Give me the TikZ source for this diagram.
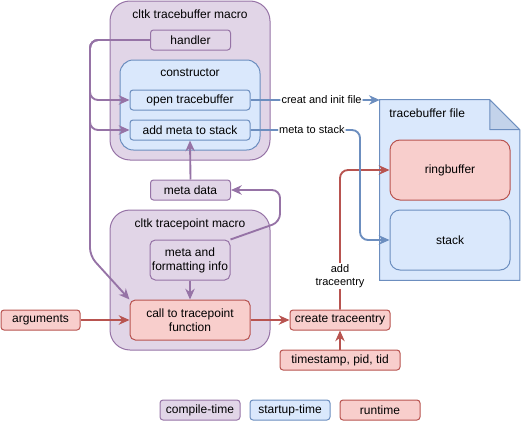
\documentclass[tikz,border=0pt]{standalone}
\usepackage{fontspec}
\setmainfont{Liberation Sans}
\usetikzlibrary{arrows.meta,calc}
\definecolor{pfill}{HTML}{E1D5E7}
\definecolor{pdraw}{HTML}{9673A6}
\definecolor{bfill}{HTML}{DAE8FC}
\definecolor{bdraw}{HTML}{6C8EBF}
\definecolor{rfill}{HTML}{F8CECC}
\definecolor{rdraw}{HTML}{B85450}
\definecolor{foldc}{HTML}{C3D3EA}
\begin{document}
\begin{tikzpicture}[x=0.75pt,y=-0.75pt,
  font=\fontsize{9}{10.5}\selectfont,
  box/.style={draw, line width=0.75pt, rounded corners=2.25pt, inner sep=0pt, align=center, text=black},
  pbox/.style={box, fill=pfill, draw=pdraw},
  bbox/.style={box, fill=bfill, draw=bdraw},
  rbox/.style={box, fill=rfill, draw=rdraw},
  sz/.style 2 args={minimum width=#1*0.75pt, minimum height=#2*0.75pt},
  conn/.style={line width=1.4pt, rounded corners=6pt, -{Stealth[length=8pt,width=7pt,inset=2.5pt]}},
  pconn/.style={conn, draw=pdraw},
  bconn/.style={conn, draw=bdraw},
  rconn/.style={conn, draw=rdraw},
  lbl/.style={fill=white, inner sep=0.8pt, align=center, font=\fontsize{8.25}{10}\selectfont, text=black},
  ttl/.style={inner sep=0pt, text=black}]
\useasboundingbox (0,0) rectangle (521,421);
% containers
\node[pbox, sz={160}{159}, rounded corners=15pt] (tbm) at (190,80.5) {};
\node[ttl] (tbmt) at (190,14) {cltk tracebuffer macro};
\node[bbox, sz={140}{90}, rounded corners=10pt] (ctor) at (190,105) {};
\node[ttl] (ctort) at (190,73) {constructor};
\node[pbox, sz={80}{20}] (handler) at (190.5,40) {handler};
\node[bbox, sz={120}{20}] (open) at (190,100) {open tracebuffer};
\node[bbox, sz={120}{20}] (addmeta) at (190,130) {add meta to stack};
\node[pbox, sz={80}{20}] (metadata) at (190.5,190) {meta data};
\node[pbox, sz={160}{140}, rounded corners=15pt] (tpm) at (190,280) {};
\node[ttl] (tpmt) at (190,224) {cltk tracepoint macro};
\node[pbox, sz={80}{40}, rounded corners=4pt] (metafmt) at (190,260) {meta and\\formatting info};
\node[rbox, sz={120}{40}, rounded corners=4pt] (call) at (190,320) {call to tracepoint\\function};
\node[rbox, sz={79}{20}] (args) at (40.5,320) {arguments};
\node[rbox, sz={100}{20}] (create) at (340,320) {create traceentry};
\node[rbox, sz={120}{20}] (ts) at (340,360) {timestamp, pid, tid};
% file
\node[inner sep=0pt, sz={139.5}{180}] (file) at (449.75,190) {};
\filldraw[fill=bfill, draw=bdraw, line width=0.75pt]
  (file.north west) -- ($(file.north east)+(-30,0)$) -- ($(file.north east)+(0,30)$)
  -- (file.south east) -- (file.south west) -- cycle;
\filldraw[fill=foldc, draw=bdraw, line width=0.75pt, line join=round]
  ($(file.north east)+(-30,0)$) -- ($(file.north east)+(-30,30)$) -- ($(file.north east)+(0,30)$) -- cycle;
\node[ttl, anchor=west] (filet) at (389,113) {tracebuffer file};
\node[rbox, sz={120}{60}, rounded corners=7.5pt] (ring) at (450,170) {ringbuffer};
\node[bbox, sz={120}{60}, rounded corners=7.5pt] (stack) at (450,240) {stack};
% legend
\node[pbox, sz={80}{20}] (lc) at (200,410) {compile-time};
\node[bbox, sz={80}{20}] (ls) at (290,410) {startup-time};
\node[rbox, sz={80}{20}] (lr) at (380,410) {runtime};
% connectors
\coordinate (hx) at (90,0);
\coordinate (hd) at (90,256);
\draw[pconn] (handler.west) -- (handler.west -| hx) |- (open.west);
\draw[pconn] (handler.west) -- (handler.west -| hx) |- (addmeta.west);
\draw[pconn] (handler.west) -- (handler.west -| hx) -- (hd) -- (call.north west);
\draw[pconn] (metadata.north) -- (addmeta.south);
\coordinate (mw) at (280,222);
\draw[pconn] (metafmt.north east) -- (mw) -- (mw |- metadata.east) -- (metadata.east);
\draw[pconn] (metafmt.south) -- (call.north);
\draw[rconn] (args.east) -- (call.west);
\draw[rconn] (call.east) -- (create.west);
\draw[rconn] (ts.north) -- (create.south);
\draw[rconn] (create.north) |- node[lbl, pos=0.12] (addl) {add\\traceentry} (ring.west);
\draw[bconn] (open.east) -- node[lbl, pos=0.55] (cil) {creat and init file} (open.east -| file.west);
\coordinate (mx) at (360,0);
\draw[bconn] (addmeta.east) -- node[lbl, pos=0.56] (msl) {meta to stack} (addmeta.east -| mx) |- (stack.west);
\end{tikzpicture}
\end{document}
